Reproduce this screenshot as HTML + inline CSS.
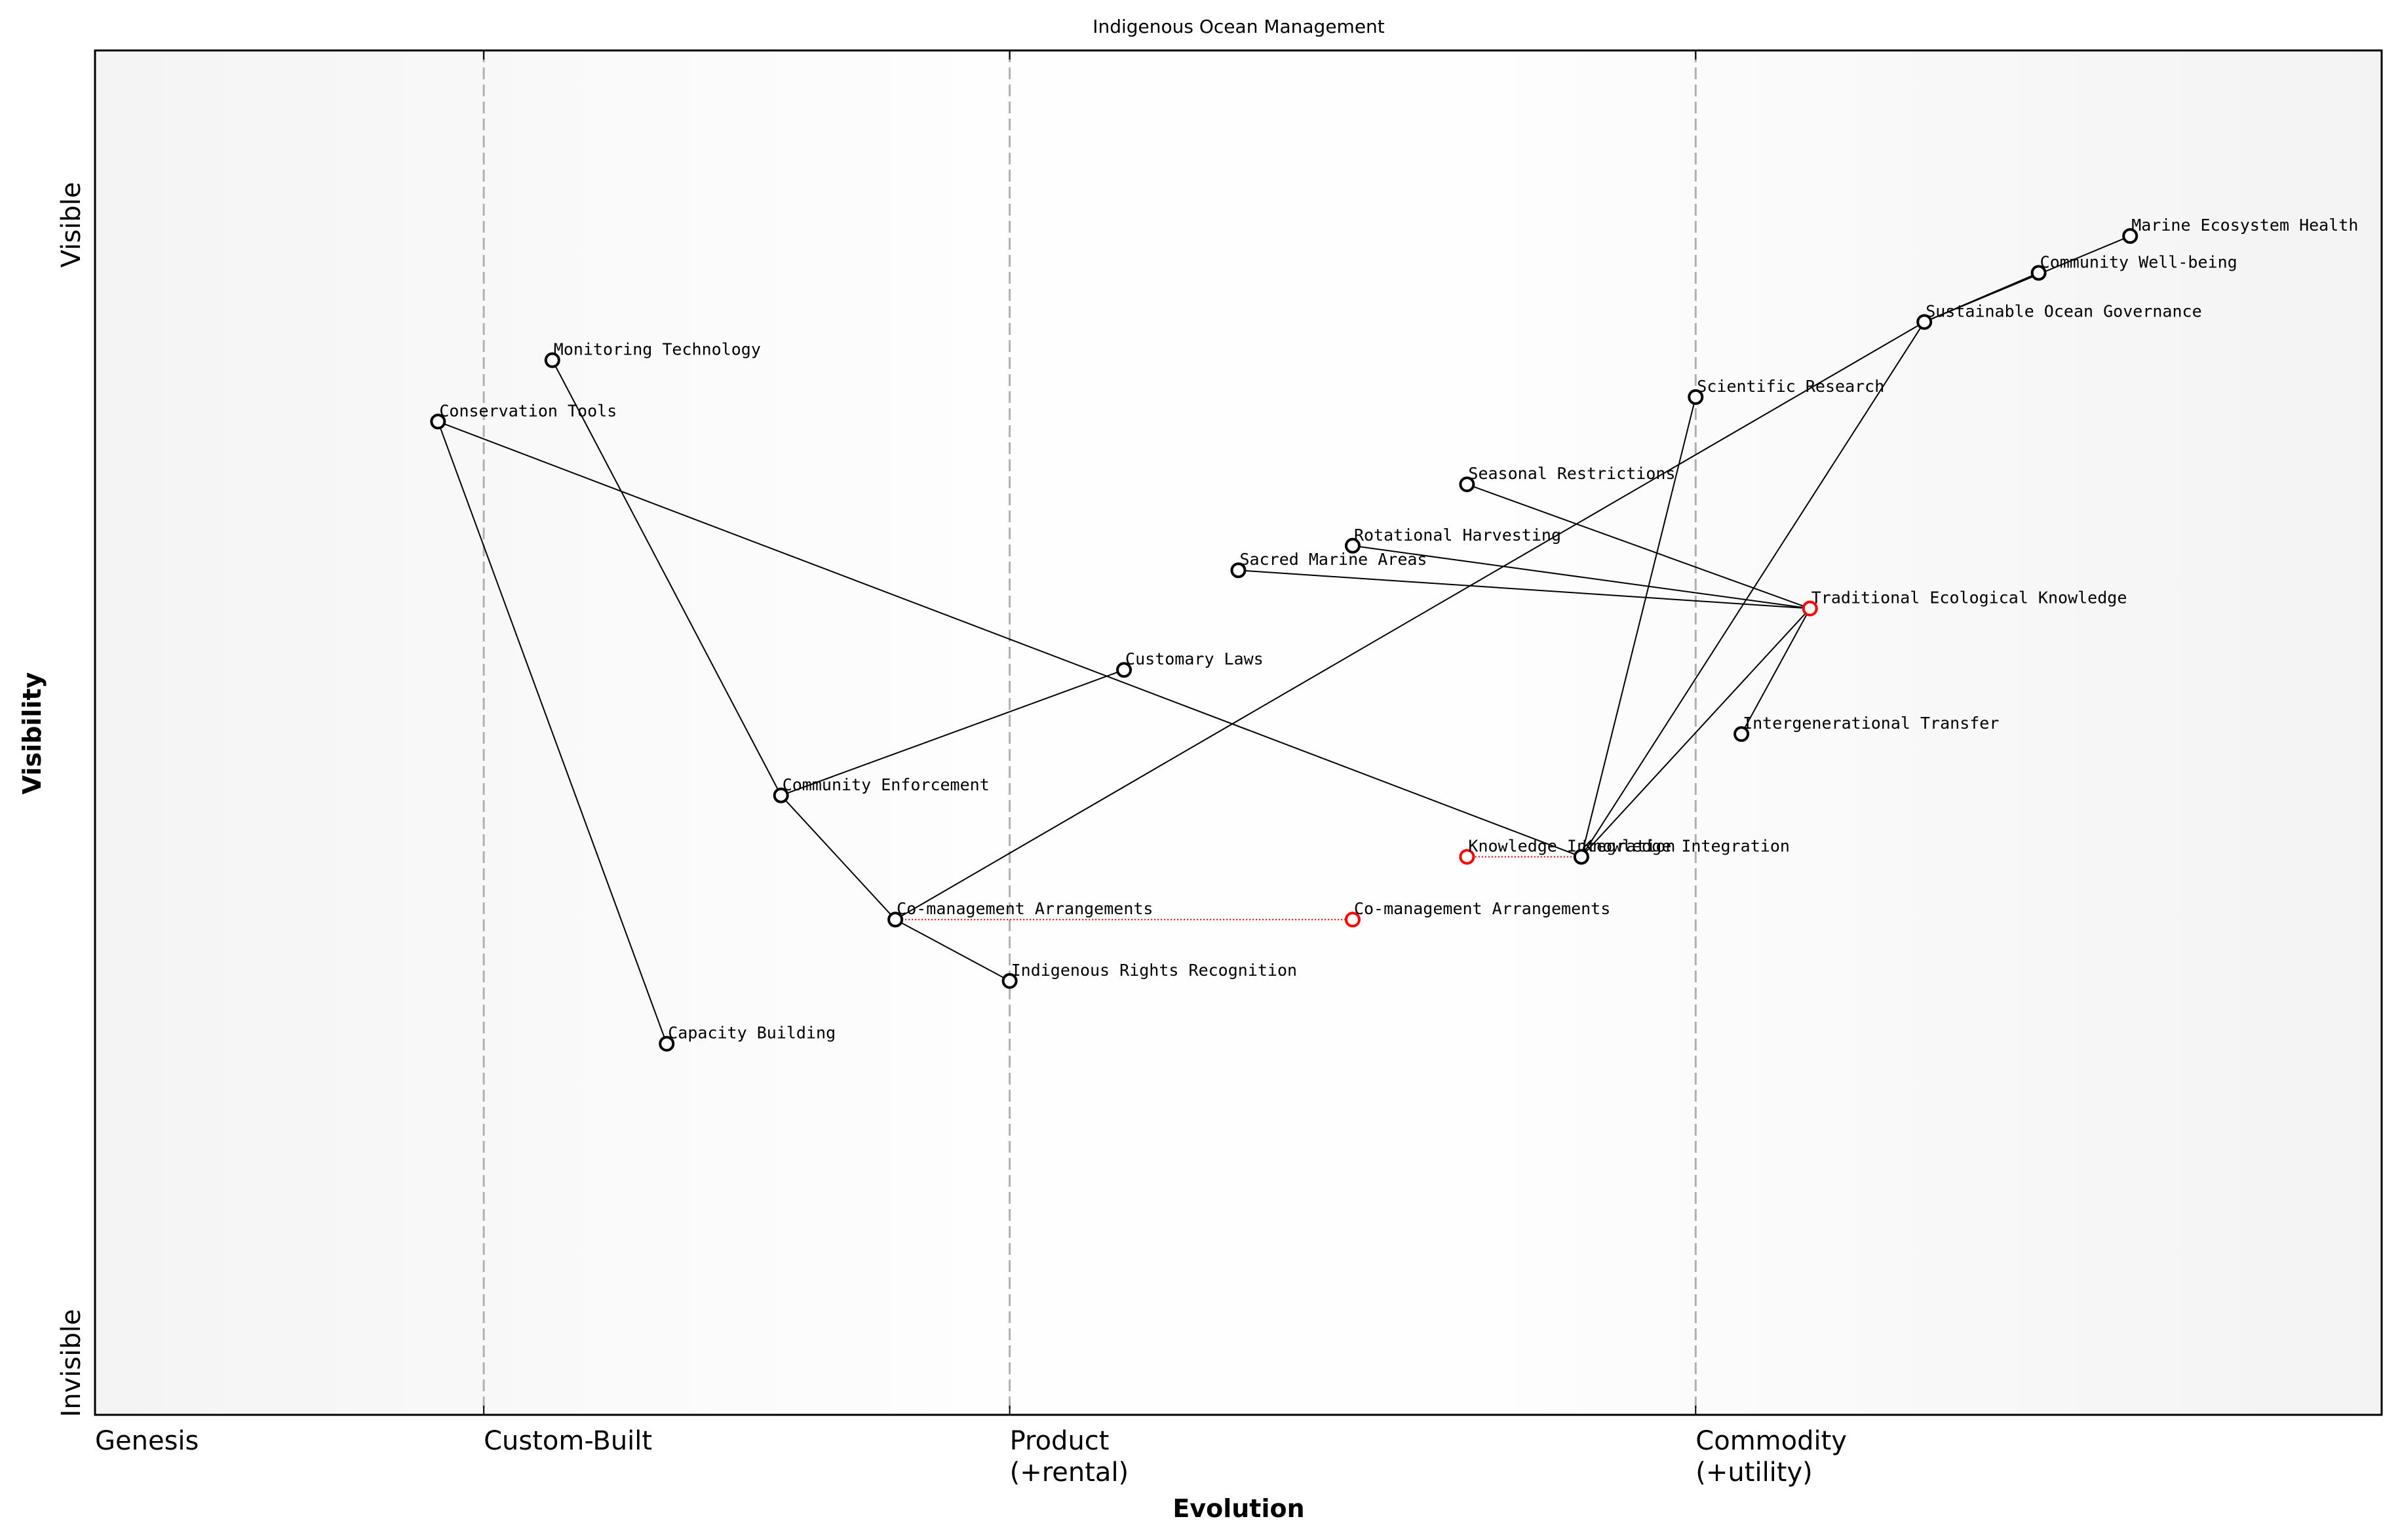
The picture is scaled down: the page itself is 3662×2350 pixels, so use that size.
<!DOCTYPE html>
<html><head><meta charset="utf-8"><title>Indigenous Ocean Management</title>
<style>html,body{margin:0;padding:0;background:#fff}svg{display:block}</style></head>
<body>
<svg id="chart" xmlns="http://www.w3.org/2000/svg" width="3662" height="2350" viewBox="0 0 3662 2350" font-family="'Liberation Sans','DejaVu Sans',sans-serif">
<defs>
<linearGradient id="bg" x1="0" x2="1" y1="0" y2="0">
<stop offset="0" stop-color="#f4f4f4"/><stop offset="0.4" stop-color="#fefefe"/><stop offset="0.6" stop-color="#fefefe"/><stop offset="1" stop-color="#f3f3f3"/>
</linearGradient>
</defs>
<text x="1890" y="50" font-size="28" text-anchor="middle" font-family="'DejaVu Sans',sans-serif">Indigenous Ocean Management</text>
<rect x="145" y="77" width="3489" height="2082" fill="url(#bg)"/>
<g id="grid"></g>
<g id="links"></g>
<g id="nodes"></g>
<rect x="145" y="77" width="3489" height="2082" fill="none" stroke="#000" stroke-width="3"/>
<g id="xticks" font-size="40" font-family="'DejaVu Sans',sans-serif"></g>
<text transform="translate(122,343) rotate(-90)" font-size="40" text-anchor="middle" font-family="'DejaVu Sans',sans-serif">Visible</text>
<text transform="translate(122,2080) rotate(-90)" font-size="40" text-anchor="middle" font-family="'DejaVu Sans',sans-serif">Invisible</text>
<text transform="translate(62,1119) rotate(-90)" font-size="38" font-weight="bold" text-anchor="middle" font-family="'DejaVu Sans',sans-serif">Visibility</text>
<text x="1890" y="2315" font-size="38" font-weight="bold" text-anchor="middle" font-family="'DejaVu Sans',sans-serif">Evolution</text>
</svg>
<script>
const stageNames = ["Genesis", "Custom-Built", "Product", "Commodity"];
const stageSub = ["", "", "(+rental)", "(+utility)"];
const stagePos = [0.0, 0.17, 0.40, 0.70];
const nodeNames = ["Marine Ecosystem Health","Community Well-being","Sustainable Ocean Governance","Scientific Research","Monitoring Technology","Conservation Tools","Seasonal Restrictions","Rotational Harvesting","Sacred Marine Areas","Traditional Ecological Knowledge","Customary Laws","Intergenerational Transfer","Community Enforcement","Knowledge Integration","Co-management Arrangements","Indigenous Rights Recognition","Capacity Building"];
const nodeEvo = [0.89,0.85,0.80,0.70,0.20,0.15,0.60,0.55,0.50,0.75,0.45,0.72,0.30,0.65,0.35,0.40,0.25];
const nodeVis = [0.864,0.837,0.801,0.746,0.773,0.728,0.682,0.637,0.619,0.591,0.546,0.499,0.454,0.409,0.363,0.318,0.272];
const nodeRed = [0,0,0,0,0,0,0,0,0,1,0,0,0,0,0,0,0];
const linkFrom = [0,1,2,2,3,9,9,9,9,9,5,5,4,12,12,14];
const linkTo = [2,2,14,13,13,11,13,6,7,8,13,16,12,10,14,15];
const moveFrom = [14,13];
const moveToEvo = [0.55,0.60];

const X0=145,X1=3634,Y0=77,Y1=2159;
const sx = v => X0 + v*(X1-X0);
const sy = v => Y1 - v*(Y1-Y0);
const NS="http://www.w3.org/2000/svg";
const LF="'DejaVu Sans Mono','Liberation Mono',monospace";
function mk(tag, parent, attrs){const e=document.createElementNS(NS,tag);for(const k in attrs)e.setAttribute(k,attrs[k]);parent.appendChild(e);return e;}
const grid=document.getElementById('grid'),links=document.getElementById('links'),nodes=document.getElementById('nodes'),xt=document.getElementById('xticks');
stagePos.forEach((p,i)=>{
  if(i>0){
    const l=mk('line',grid,{x1:sx(p),x2:sx(p),y1:Y0,y2:Y1,stroke:'#b0b0b0','stroke-width':3,'stroke-dasharray':'18,8'});
    
    
    mk('line',grid,{x1:sx(p),x2:sx(p),y1:Y0,y2:Y0+14,stroke:'#000','stroke-width':2});
    mk('line',grid,{x1:sx(p),x2:sx(p),y1:Y1-14,y2:Y1,stroke:'#000','stroke-width':2});
  }
  const t=mk('text',xt,{x:sx(p),y:2212});
  
  
  t.textContent=stageNames[i];
  if(stageSub[i]){const t2=mk('text',xt,{x:sx(p),y:2260});
    
    
    t2.textContent=stageSub[i];}
});
linkFrom.forEach((f,i)=>{
  const t=linkTo[i];
  const l=mk('line',links,{x1:sx(nodeEvo[f]),y1:sy(nodeVis[f]),x2:sx(nodeEvo[t]),y2:sy(nodeVis[t]),stroke:'#000','stroke-width':2});
  
  
});
moveFrom.forEach((f,i)=>{
  const l=mk('line',links,{x1:sx(nodeEvo[f]),y1:sy(nodeVis[f]),x2:sx(moveToEvo[i]),y2:sy(nodeVis[f]),stroke:'#e00000','stroke-width':2,'stroke-dasharray':'2,3'});
  
  
  const c=mk('circle',nodes,{cx:sx(moveToEvo[i]),cy:sy(nodeVis[f]),r:10,fill:'#fff',stroke:'#ff0000','stroke-width':4});
  
  
  const tx=mk('text',nodes,{x:sx(moveToEvo[i])+2,y:sy(nodeVis[f])-8,'font-size':25,'font-family':LF});
  
  
  tx.textContent=nodeNames[f];
});
nodeNames.forEach((n,i)=>{
  const c=mk('circle',nodes,{cx:sx(nodeEvo[i]),cy:sy(nodeVis[i]),r:10,fill:'#fff',stroke:nodeRed[i]?'#ff0000':'#000','stroke-width':4});
  
  
  const t=mk('text',nodes,{x:sx(nodeEvo[i])+2,y:sy(nodeVis[i])-8,'font-size':25,'font-family':LF});
  
  
  t.textContent=n;
});
</script>
</body></html>
